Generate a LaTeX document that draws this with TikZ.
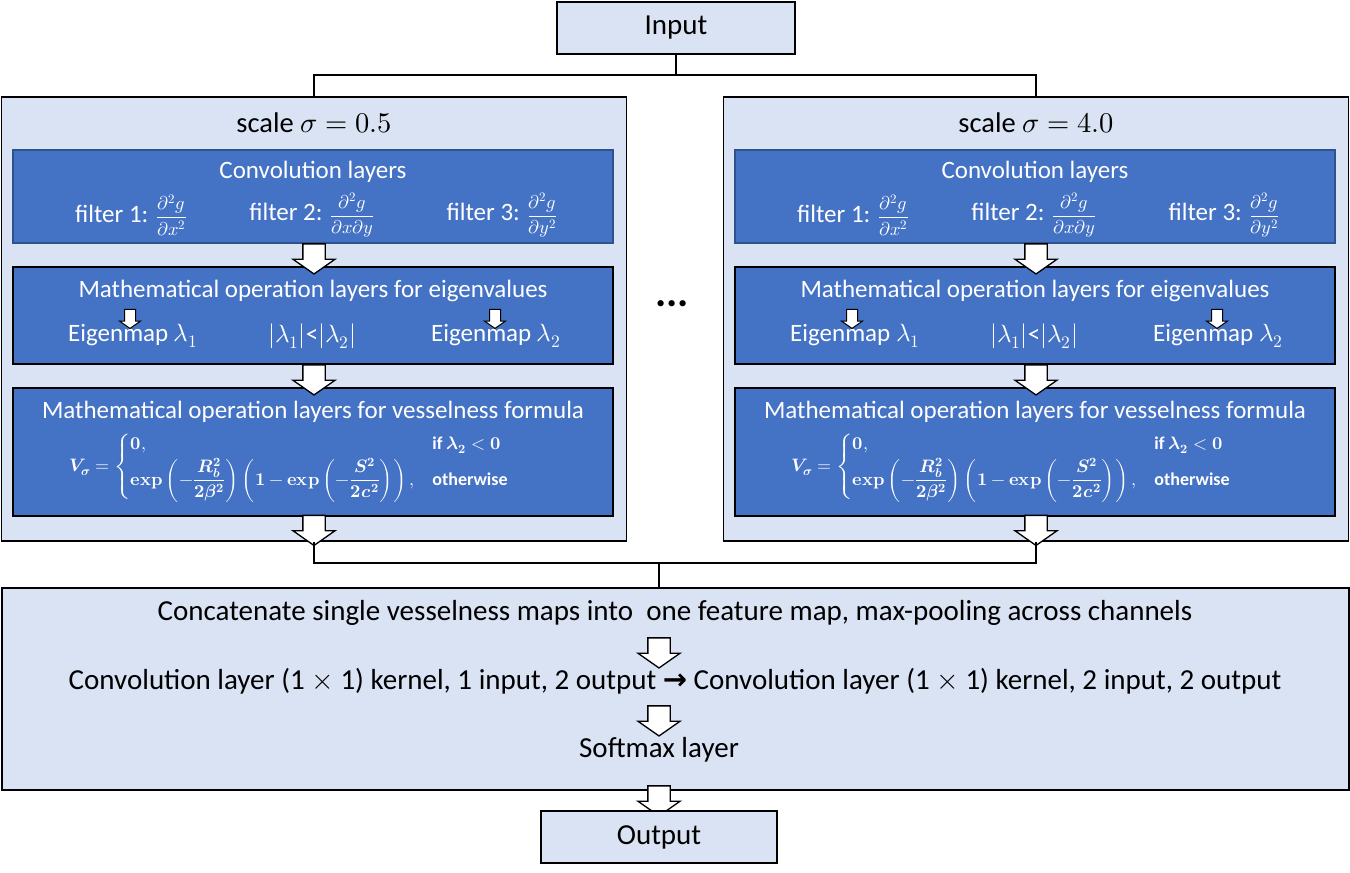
\documentclass[tikz,border=0pt]{standalone}
\usepackage{amsmath}
\usepackage{fontspec}
\usepackage[bold-style=ISO]{unicode-math}
\setmainfont{Carlito}
\setmathfont{Latin Modern Math}
\newfontfamily\arrowfont{DejaVu Sans}
\usetikzlibrary{shapes.arrows}
\definecolor{LightBlue}{RGB}{218,227,243}
\definecolor{MidBlue}{RGB}{68,114,196}
\definecolor{EdgeBlue}{RGB}{47,82,143}

\begin{document}
\begin{tikzpicture}[x=1pt,y=-1pt,
                box/.style={draw,line width=1.5pt,fill=LightBlue,inner sep=0pt},
                conv/.style={draw=EdgeBlue,line width=1.2pt,fill=MidBlue,minimum width=600pt,inner sep=0pt},
                op/.style={draw,line width=2pt,fill=MidBlue,minimum width=600pt,inner sep=0pt},
                wt/.style={text=white,font=\fontsize{25}{29}\selectfont,inner sep=0pt},
                bt/.style={font=\fontsize{29}{34}\selectfont,inner sep=0pt},
                link/.style={line width=1.5pt},
                blk/.style={single arrow,draw,line width=1.3pt,fill=white,shape border rotate=270,inner sep=10.5pt,
                            minimum width=42pt,minimum height=28pt,single arrow head extend=10pt,single arrow tip angle=110},
                sblk/.style={blk,line width=1pt,inner sep=5pt,minimum width=20pt,minimum height=19pt,single arrow head extend=5pt}
            ]
                \useasboundingbox (0,0) rectangle (1350,873);
                % Input and the split to the two scales
                \node[box,bt,minimum width=238pt,minimum height=52pt] (in) at (676,28) {Input};
                \coordinate (split) at (676,75);
                % One column per scale
                \foreach \i/\dx/\sg in {1/0/0.5, 2/722/4.0} {
                    \node[box,minimum width=625pt,minimum height=444pt] (s\i) at (314+\dx,319) {};
                    \node[font=\fontsize{28.5}{32}\selectfont,inner sep=0pt] (t\i) at (314+\dx,123) {scale $\sigma = \sg$};
                    % convolution block
                    \node[conv,minimum height=93pt] (conv\i) at (313+\dx,196.5) {};
                    \node[wt] (ct\i) at (313+\dx,172) {Convolution layers};
                    \node[wt] (fa\i) at (131+\dx,215) {filter 1: {\fontsize{18.5}{18.5}\selectfont$\dfrac{\partial^2 g}{\partial x^2}$}};
                    \node[wt] (fb\i) at (312+\dx,215) {filter 2: {\fontsize{18.5}{18.5}\selectfont$\dfrac{\partial^2 g}{\partial x\partial y}$}};
                    \node[wt] (fc\i) at (502+\dx,215) {filter 3: {\fontsize{18.5}{18.5}\selectfont$\dfrac{\partial^2 g}{\partial y^2}$}};
                    % eigenvalue block
                    \node[op,minimum height=97pt] (eig\i) at (313+\dx,315.5) {};
                    \node[wt] (et\i) at (313+\dx,291) {Mathematical operation layers for eigenvalues};
                    \node[wt] (ea\i) at (133+\dx,336) {Eigenmap $\lambda_1$};
                    \node[wt] (eb\i) at (312+\dx,336) {$|\lambda_1|$<$|\lambda_2|$};
                    \node[wt] (ec\i) at (496+\dx,336) {Eigenmap $\lambda_2$};
                    \node[sblk] (sa\i) at (130+\dx,317) {};
                    \node[sblk] (sb\i) at (495+\dx,317) {};
                    % vesselness block
                    \node[op,minimum height=128pt] (ves\i) at (313+\dx,452) {};
                    \node[wt] (vt\i) at (313+\dx,412) {Mathematical operation layers for vesselness formula};
                    \node[text=white,font=\fontsize{18}{21}\selectfont\bfseries,inner sep=0pt] (vf\i) at (289+\dx,467)
                        {$\symbf{V_{\sigma}} = \begin{cases}
                            \symbf{0}, & \textbf{if } \symbf{\lambda_2} < \symbf{0}\\[1pt]
                            \symbfup{exp}\left(-\dfrac{\symbf{R_b^2}}{\symbf{2\beta^2}}\right)\left(\symbf{1}-\symbfup{exp}\left(-\dfrac{\symbf{S^2}}{\symbf{2c^2}}\right)\right), & \textbf{otherwise}
                        \end{cases}$};
                    % block arrows between the layers
                    \node[blk] (a\i) at (314+\dx,255) {};
                    \node[blk] (b\i) at (314+\dx,376) {};
                    \node[blk] (c\i) at (314+\dx,526.5) {};
                }
                \draw[link] (in) -- (split);
                \draw[link] (s1.north) |- (split) -| (s2.north);
                \node[font=\fontsize{42}{42}\selectfont\bfseries,inner sep=0pt] (dots) at (672,304) {...};
                % Merge into the output stage
                \coordinate (merge) at (659,563);
                \node[box,minimum width=1347pt,minimum height=202pt] (bot) at (675.5,689) {};
                \draw[link] (s1.south) |- (merge) -| (s2.south);
                \draw[link] (merge) -- (merge |- bot.north);
                \node[bt] (cat) at (675,613) {Concatenate single vesselness maps into\ \ one feature map, max-pooling across channels};
                \node[blk] (m1) at (659,649) {};
                \node[bt] (cv) at (675,681) {Convolution layer (1 $\times$ 1) kernel, 1 input, 2 output {\arrowfont\bfseries →} Convolution layer (1 $\times$ 1) kernel, 2 input, 2 output};
                \node[blk] (m2) at (659,717) {};
                \node[bt] (sm) at (659,750) {Softmax layer};
                \node[blk] (m3) at (659,797) {};
                \node[box,bt,minimum width=236pt,minimum height=52pt] (out) at (659,837) {Output};
            \end{tikzpicture}
\end{document}
